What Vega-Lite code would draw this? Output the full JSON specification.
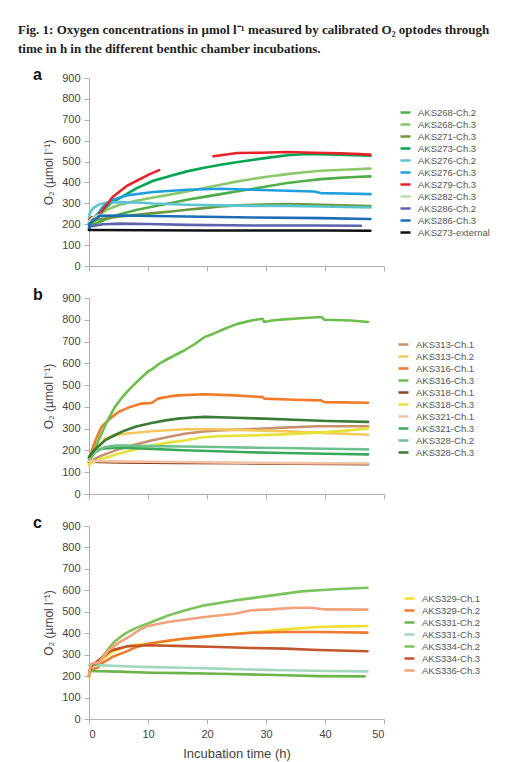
{
  "$schema": "https://vega.github.io/schema/vega-lite/v6.json",
  "background": "white",
  "padding": {"left": 18, "top": 24, "right": 5, "bottom": 2},
  "title": {
    "text": ["Fig. 1: Oxygen concentrations in µmol  l⁻¹ measured by calibrated O₂ optodes through", "time in h in the different benthic chamber incubations."],
    "anchor": "start",
    "font": "Liberation Serif",
    "fontSize": 13,
    "fontWeight": "bold",
    "color": "#222222",
    "lineHeight": 19,
    "offset": 11,
    "dx": -15
  },
  "datasets": {
    "pa": [
      {"s": "AKS268-Ch.2", "t": 0, "v": 195}, {"s": "AKS268-Ch.2", "t": 0.5, "v": 200}, {"s": "AKS268-Ch.2", "t": 1.3, "v": 205}, {"s": "AKS268-Ch.2", "t": 3, "v": 225}, {"s": "AKS268-Ch.2", "t": 5.2, "v": 248}, {"s": "AKS268-Ch.2", "t": 8, "v": 268}, {"s": "AKS268-Ch.2", "t": 10.9, "v": 285}, {"s": "AKS268-Ch.2", "t": 13.9, "v": 302}, {"s": "AKS268-Ch.2", "t": 16.6, "v": 317}, {"s": "AKS268-Ch.2", "t": 19.5, "v": 331}, {"s": "AKS268-Ch.2", "t": 22.3, "v": 344}, {"s": "AKS268-Ch.2", "t": 25, "v": 357}, {"s": "AKS268-Ch.2", "t": 27.9, "v": 370}, {"s": "AKS268-Ch.2", "t": 30.8, "v": 384}, {"s": "AKS268-Ch.2", "t": 33.6, "v": 397}, {"s": "AKS268-Ch.2", "t": 36.5, "v": 407}, {"s": "AKS268-Ch.2", "t": 39.3, "v": 416}, {"s": "AKS268-Ch.2", "t": 42.5, "v": 422}, {"s": "AKS268-Ch.2", "t": 45, "v": 426}, {"s": "AKS268-Ch.2", "t": 47.7, "v": 429},
      {"s": "AKS268-Ch.3", "t": 0, "v": 200}, {"s": "AKS268-Ch.3", "t": 0.7, "v": 215}, {"s": "AKS268-Ch.3", "t": 1.5, "v": 240}, {"s": "AKS268-Ch.3", "t": 3, "v": 269}, {"s": "AKS268-Ch.3", "t": 5.2, "v": 293}, {"s": "AKS268-Ch.3", "t": 8, "v": 312}, {"s": "AKS268-Ch.3", "t": 10.9, "v": 328}, {"s": "AKS268-Ch.3", "t": 13.9, "v": 343}, {"s": "AKS268-Ch.3", "t": 16.6, "v": 357}, {"s": "AKS268-Ch.3", "t": 19.5, "v": 373}, {"s": "AKS268-Ch.3", "t": 22.3, "v": 389}, {"s": "AKS268-Ch.3", "t": 25, "v": 404}, {"s": "AKS268-Ch.3", "t": 27.9, "v": 418}, {"s": "AKS268-Ch.3", "t": 30.8, "v": 430}, {"s": "AKS268-Ch.3", "t": 33.6, "v": 440}, {"s": "AKS268-Ch.3", "t": 36.5, "v": 449}, {"s": "AKS268-Ch.3", "t": 39.3, "v": 456}, {"s": "AKS268-Ch.3", "t": 43, "v": 461}, {"s": "AKS268-Ch.3", "t": 47.7, "v": 466},
      {"s": "AKS271-Ch.3", "t": 0, "v": 200}, {"s": "AKS271-Ch.3", "t": 1.3, "v": 221}, {"s": "AKS271-Ch.3", "t": 3, "v": 228}, {"s": "AKS271-Ch.3", "t": 5.2, "v": 237}, {"s": "AKS271-Ch.3", "t": 8, "v": 245}, {"s": "AKS271-Ch.3", "t": 10.9, "v": 253}, {"s": "AKS271-Ch.3", "t": 13.9, "v": 261}, {"s": "AKS271-Ch.3", "t": 16.6, "v": 269}, {"s": "AKS271-Ch.3", "t": 19.5, "v": 277}, {"s": "AKS271-Ch.3", "t": 22.3, "v": 285}, {"s": "AKS271-Ch.3", "t": 25, "v": 290}, {"s": "AKS271-Ch.3", "t": 27.9, "v": 293}, {"s": "AKS271-Ch.3", "t": 30.8, "v": 295}, {"s": "AKS271-Ch.3", "t": 33.6, "v": 296}, {"s": "AKS271-Ch.3", "t": 36.5, "v": 295}, {"s": "AKS271-Ch.3", "t": 39.3, "v": 293}, {"s": "AKS271-Ch.3", "t": 43, "v": 290}, {"s": "AKS271-Ch.3", "t": 47.7, "v": 287},
      {"s": "AKS273-Ch.3", "t": 0, "v": 205}, {"s": "AKS273-Ch.3", "t": 0.5, "v": 215}, {"s": "AKS273-Ch.3", "t": 1.5, "v": 235}, {"s": "AKS273-Ch.3", "t": 2.4, "v": 269}, {"s": "AKS273-Ch.3", "t": 3.5, "v": 297}, {"s": "AKS273-Ch.3", "t": 5.2, "v": 325}, {"s": "AKS273-Ch.3", "t": 8.1, "v": 373}, {"s": "AKS273-Ch.3", "t": 10.9, "v": 408}, {"s": "AKS273-Ch.3", "t": 13.9, "v": 432}, {"s": "AKS273-Ch.3", "t": 16.6, "v": 453}, {"s": "AKS273-Ch.3", "t": 19.5, "v": 470}, {"s": "AKS273-Ch.3", "t": 22.3, "v": 485}, {"s": "AKS273-Ch.3", "t": 25, "v": 497}, {"s": "AKS273-Ch.3", "t": 27.9, "v": 509}, {"s": "AKS273-Ch.3", "t": 30.8, "v": 520}, {"s": "AKS273-Ch.3", "t": 33.6, "v": 530}, {"s": "AKS273-Ch.3", "t": 37, "v": 536}, {"s": "AKS273-Ch.3", "t": 42, "v": 533}, {"s": "AKS273-Ch.3", "t": 47.7, "v": 528},
      {"s": "AKS276-Ch.2", "t": 0, "v": 180}, {"s": "AKS276-Ch.2", "t": 0.1, "v": 253}, {"s": "AKS276-Ch.2", "t": 0.7, "v": 277}, {"s": "AKS276-Ch.2", "t": 1.6, "v": 293}, {"s": "AKS276-Ch.2", "t": 3, "v": 304}, {"s": "AKS276-Ch.2", "t": 5.2, "v": 306}, {"s": "AKS276-Ch.2", "t": 8.1, "v": 304}, {"s": "AKS276-Ch.2", "t": 10.9, "v": 299}, {"s": "AKS276-Ch.2", "t": 16.6, "v": 293}, {"s": "AKS276-Ch.2", "t": 22.3, "v": 290}, {"s": "AKS276-Ch.2", "t": 27.9, "v": 288}, {"s": "AKS276-Ch.2", "t": 33.6, "v": 288}, {"s": "AKS276-Ch.2", "t": 39.3, "v": 285}, {"s": "AKS276-Ch.2", "t": 47.7, "v": 280},
      {"s": "AKS276-Ch.3", "t": 0, "v": 200}, {"s": "AKS276-Ch.3", "t": 0.7, "v": 229}, {"s": "AKS276-Ch.3", "t": 1.5, "v": 250}, {"s": "AKS276-Ch.3", "t": 2.4, "v": 285}, {"s": "AKS276-Ch.3", "t": 4.1, "v": 317}, {"s": "AKS276-Ch.3", "t": 6.4, "v": 338}, {"s": "AKS276-Ch.3", "t": 10.9, "v": 354}, {"s": "AKS276-Ch.3", "t": 16.6, "v": 365}, {"s": "AKS276-Ch.3", "t": 22.3, "v": 370}, {"s": "AKS276-Ch.3", "t": 27.9, "v": 365}, {"s": "AKS276-Ch.3", "t": 33.6, "v": 360}, {"s": "AKS276-Ch.3", "t": 38.1, "v": 357}, {"s": "AKS276-Ch.3", "t": 39.3, "v": 349}, {"s": "AKS276-Ch.3", "t": 43, "v": 347}, {"s": "AKS276-Ch.3", "t": 47.7, "v": 344},
      {"s": "AKS279-Ch.3", "g": 1, "t": 0, "v": 220}, {"s": "AKS279-Ch.3", "g": 1, "t": 0.4, "v": 232}, {"s": "AKS279-Ch.3", "g": 1, "t": 1.3, "v": 235}, {"s": "AKS279-Ch.3", "g": 1, "t": 1.8, "v": 250}, {"s": "AKS279-Ch.3", "g": 1, "t": 3, "v": 293}, {"s": "AKS279-Ch.3", "g": 1, "t": 4, "v": 330}, {"s": "AKS279-Ch.3", "g": 1, "t": 5.2, "v": 357}, {"s": "AKS279-Ch.3", "g": 1, "t": 6.5, "v": 385}, {"s": "AKS279-Ch.3", "g": 1, "t": 8.1, "v": 408}, {"s": "AKS279-Ch.3", "g": 1, "t": 10.3, "v": 440}, {"s": "AKS279-Ch.3", "g": 1, "t": 11.9, "v": 459},
      {"s": "AKS279-Ch.3", "g": 2, "t": 21.1, "v": 525}, {"s": "AKS279-Ch.3", "g": 2, "t": 23, "v": 533}, {"s": "AKS279-Ch.3", "g": 2, "t": 25.1, "v": 541}, {"s": "AKS279-Ch.3", "g": 2, "t": 29.1, "v": 542}, {"s": "AKS279-Ch.3", "g": 2, "t": 33.6, "v": 546}, {"s": "AKS279-Ch.3", "g": 2, "t": 38.1, "v": 542}, {"s": "AKS279-Ch.3", "g": 2, "t": 42.7, "v": 539}, {"s": "AKS279-Ch.3", "g": 2, "t": 47.7, "v": 533},
      {"s": "AKS282-Ch.3", "t": 0, "v": 215}, {"s": "AKS282-Ch.3", "t": 0.5, "v": 228}, {"s": "AKS282-Ch.3", "t": 1.2, "v": 238}, {"s": "AKS282-Ch.3", "t": 2, "v": 245},
      {"s": "AKS286-Ch.2", "t": 0, "v": 175}, {"s": "AKS286-Ch.2", "t": 0.1, "v": 189}, {"s": "AKS286-Ch.2", "t": 2.4, "v": 200}, {"s": "AKS286-Ch.2", "t": 5.2, "v": 203}, {"s": "AKS286-Ch.2", "t": 10, "v": 201}, {"s": "AKS286-Ch.2", "t": 16.6, "v": 197}, {"s": "AKS286-Ch.2", "t": 27.9, "v": 194}, {"s": "AKS286-Ch.2", "t": 38, "v": 194}, {"s": "AKS286-Ch.2", "t": 46.1, "v": 193},
      {"s": "AKS286-Ch.3", "t": 0, "v": 175}, {"s": "AKS286-Ch.3", "t": 0.1, "v": 200}, {"s": "AKS286-Ch.3", "t": 0.7, "v": 221}, {"s": "AKS286-Ch.3", "t": 1.3, "v": 229}, {"s": "AKS286-Ch.3", "t": 1.8, "v": 240}, {"s": "AKS286-Ch.3", "t": 5.2, "v": 242}, {"s": "AKS286-Ch.3", "t": 16.6, "v": 237}, {"s": "AKS286-Ch.3", "t": 27.9, "v": 232}, {"s": "AKS286-Ch.3", "t": 39.3, "v": 229}, {"s": "AKS286-Ch.3", "t": 47.7, "v": 225},
      {"s": "AKS273-external", "t": 0, "v": 172}, {"s": "AKS273-external", "t": 10, "v": 171}, {"s": "AKS273-external", "t": 20, "v": 170}, {"s": "AKS273-external", "t": 30, "v": 170}, {"s": "AKS273-external", "t": 40, "v": 170}, {"s": "AKS273-external", "t": 47.7, "v": 169}
    ],
    "pb": [
      {"s": "AKS313-Ch.1", "t": 0, "v": 147}, {"s": "AKS313-Ch.1", "t": 2, "v": 175}, {"s": "AKS313-Ch.1", "t": 5, "v": 205}, {"s": "AKS313-Ch.1", "t": 8, "v": 228}, {"s": "AKS313-Ch.1", "t": 10.6, "v": 246}, {"s": "AKS313-Ch.1", "t": 13.4, "v": 262}, {"s": "AKS313-Ch.1", "t": 16.2, "v": 277}, {"s": "AKS313-Ch.1", "t": 19, "v": 286}, {"s": "AKS313-Ch.1", "t": 21.8, "v": 292}, {"s": "AKS313-Ch.1", "t": 27.5, "v": 298}, {"s": "AKS313-Ch.1", "t": 33.1, "v": 305}, {"s": "AKS313-Ch.1", "t": 38.7, "v": 311}, {"s": "AKS313-Ch.1", "t": 47.3, "v": 311},
      {"s": "AKS313-Ch.2", "t": 0, "v": 132}, {"s": "AKS313-Ch.2", "t": 1, "v": 195}, {"s": "AKS313-Ch.2", "t": 2.7, "v": 254}, {"s": "AKS313-Ch.2", "t": 4, "v": 268}, {"s": "AKS313-Ch.2", "t": 6.1, "v": 277}, {"s": "AKS313-Ch.2", "t": 10.6, "v": 288}, {"s": "AKS313-Ch.2", "t": 16.2, "v": 297}, {"s": "AKS313-Ch.2", "t": 21.8, "v": 297}, {"s": "AKS313-Ch.2", "t": 27.5, "v": 292}, {"s": "AKS313-Ch.2", "t": 33.1, "v": 288}, {"s": "AKS313-Ch.2", "t": 38.7, "v": 282}, {"s": "AKS313-Ch.2", "t": 47.3, "v": 272},
      {"s": "AKS316-Ch.1", "t": 0, "v": 162}, {"s": "AKS316-Ch.1", "t": 1, "v": 240}, {"s": "AKS316-Ch.1", "t": 2.1, "v": 308}, {"s": "AKS316-Ch.1", "t": 3.5, "v": 345}, {"s": "AKS316-Ch.1", "t": 5, "v": 377}, {"s": "AKS316-Ch.1", "t": 7, "v": 400}, {"s": "AKS316-Ch.1", "t": 8.9, "v": 415}, {"s": "AKS316-Ch.1", "t": 10.6, "v": 418}, {"s": "AKS316-Ch.1", "t": 11.7, "v": 438}, {"s": "AKS316-Ch.1", "t": 13.4, "v": 447}, {"s": "AKS316-Ch.1", "t": 15.1, "v": 453}, {"s": "AKS316-Ch.1", "t": 19.6, "v": 458}, {"s": "AKS316-Ch.1", "t": 24.7, "v": 453}, {"s": "AKS316-Ch.1", "t": 29.4, "v": 445}, {"s": "AKS316-Ch.1", "t": 29.7, "v": 438}, {"s": "AKS316-Ch.1", "t": 34.8, "v": 433}, {"s": "AKS316-Ch.1", "t": 39.3, "v": 430}, {"s": "AKS316-Ch.1", "t": 39.9, "v": 422}, {"s": "AKS316-Ch.1", "t": 47.3, "v": 419},
      {"s": "AKS316-Ch.3", "t": 0, "v": 147}, {"s": "AKS316-Ch.3", "t": 1.6, "v": 246}, {"s": "AKS316-Ch.3", "t": 3, "v": 330}, {"s": "AKS316-Ch.3", "t": 4.4, "v": 400}, {"s": "AKS316-Ch.3", "t": 5.8, "v": 450}, {"s": "AKS316-Ch.3", "t": 7.2, "v": 491}, {"s": "AKS316-Ch.3", "t": 8.9, "v": 535}, {"s": "AKS316-Ch.3", "t": 10.1, "v": 565}, {"s": "AKS316-Ch.3", "t": 10.6, "v": 571}, {"s": "AKS316-Ch.3", "t": 12, "v": 600}, {"s": "AKS316-Ch.3", "t": 13.4, "v": 621}, {"s": "AKS316-Ch.3", "t": 16.2, "v": 660}, {"s": "AKS316-Ch.3", "t": 18, "v": 690}, {"s": "AKS316-Ch.3", "t": 19.6, "v": 721}, {"s": "AKS316-Ch.3", "t": 21, "v": 735}, {"s": "AKS316-Ch.3", "t": 23, "v": 759}, {"s": "AKS316-Ch.3", "t": 25, "v": 780}, {"s": "AKS316-Ch.3", "t": 27.5, "v": 797}, {"s": "AKS316-Ch.3", "t": 29.4, "v": 805}, {"s": "AKS316-Ch.3", "t": 29.7, "v": 790}, {"s": "AKS316-Ch.3", "t": 31, "v": 797}, {"s": "AKS316-Ch.3", "t": 33.1, "v": 802}, {"s": "AKS316-Ch.3", "t": 36.5, "v": 808}, {"s": "AKS316-Ch.3", "t": 39.4, "v": 813}, {"s": "AKS316-Ch.3", "t": 39.9, "v": 800}, {"s": "AKS316-Ch.3", "t": 44.4, "v": 797}, {"s": "AKS316-Ch.3", "t": 47.3, "v": 790},
      {"s": "AKS318-Ch.1", "t": 0, "v": 148}, {"s": "AKS318-Ch.1", "t": 5, "v": 145}, {"s": "AKS318-Ch.1", "t": 15, "v": 143}, {"s": "AKS318-Ch.1", "t": 25, "v": 141}, {"s": "AKS318-Ch.1", "t": 35, "v": 139}, {"s": "AKS318-Ch.1", "t": 47.3, "v": 137},
      {"s": "AKS318-Ch.3", "t": 0, "v": 139}, {"s": "AKS318-Ch.3", "t": 2, "v": 160}, {"s": "AKS318-Ch.3", "t": 5, "v": 185}, {"s": "AKS318-Ch.3", "t": 8, "v": 205}, {"s": "AKS318-Ch.3", "t": 10.6, "v": 223}, {"s": "AKS318-Ch.3", "t": 13.4, "v": 236}, {"s": "AKS318-Ch.3", "t": 16.2, "v": 246}, {"s": "AKS318-Ch.3", "t": 19.6, "v": 262}, {"s": "AKS318-Ch.3", "t": 23, "v": 266}, {"s": "AKS318-Ch.3", "t": 27.5, "v": 269}, {"s": "AKS318-Ch.3", "t": 33.1, "v": 274}, {"s": "AKS318-Ch.3", "t": 38.7, "v": 282}, {"s": "AKS318-Ch.3", "t": 43, "v": 290}, {"s": "AKS318-Ch.3", "t": 47.3, "v": 300},
      {"s": "AKS321-Ch.1", "t": 0, "v": 152}, {"s": "AKS321-Ch.1", "t": 5, "v": 150}, {"s": "AKS321-Ch.1", "t": 15, "v": 147}, {"s": "AKS321-Ch.1", "t": 25, "v": 144}, {"s": "AKS321-Ch.1", "t": 35, "v": 142}, {"s": "AKS321-Ch.1", "t": 47.3, "v": 140},
      {"s": "AKS321-Ch.3", "t": 0, "v": 165}, {"s": "AKS321-Ch.3", "t": 1, "v": 195}, {"s": "AKS321-Ch.3", "t": 2.1, "v": 208}, {"s": "AKS321-Ch.3", "t": 4, "v": 212}, {"s": "AKS321-Ch.3", "t": 6.6, "v": 211}, {"s": "AKS321-Ch.3", "t": 10.6, "v": 207}, {"s": "AKS321-Ch.3", "t": 16, "v": 201}, {"s": "AKS321-Ch.3", "t": 21.8, "v": 196}, {"s": "AKS321-Ch.3", "t": 27, "v": 192}, {"s": "AKS321-Ch.3", "t": 33.1, "v": 188}, {"s": "AKS321-Ch.3", "t": 40, "v": 185}, {"s": "AKS321-Ch.3", "t": 47.3, "v": 182},
      {"s": "AKS328-Ch.2", "t": 0, "v": 160}, {"s": "AKS328-Ch.2", "t": 1, "v": 190}, {"s": "AKS328-Ch.2", "t": 2.7, "v": 216}, {"s": "AKS328-Ch.2", "t": 4.5, "v": 222}, {"s": "AKS328-Ch.2", "t": 6.6, "v": 223}, {"s": "AKS328-Ch.2", "t": 10.6, "v": 220}, {"s": "AKS328-Ch.2", "t": 16, "v": 218}, {"s": "AKS328-Ch.2", "t": 21.8, "v": 216}, {"s": "AKS328-Ch.2", "t": 27, "v": 213}, {"s": "AKS328-Ch.2", "t": 33.1, "v": 211}, {"s": "AKS328-Ch.2", "t": 40, "v": 208}, {"s": "AKS328-Ch.2", "t": 47.3, "v": 205},
      {"s": "AKS328-Ch.3", "t": 0, "v": 170}, {"s": "AKS328-Ch.3", "t": 1, "v": 205}, {"s": "AKS328-Ch.3", "t": 2.7, "v": 246}, {"s": "AKS328-Ch.3", "t": 4.5, "v": 272}, {"s": "AKS328-Ch.3", "t": 6.1, "v": 292}, {"s": "AKS328-Ch.3", "t": 8, "v": 310}, {"s": "AKS328-Ch.3", "t": 10.6, "v": 326}, {"s": "AKS328-Ch.3", "t": 13, "v": 338}, {"s": "AKS328-Ch.3", "t": 15.1, "v": 346}, {"s": "AKS328-Ch.3", "t": 17.5, "v": 351}, {"s": "AKS328-Ch.3", "t": 19.6, "v": 354}, {"s": "AKS328-Ch.3", "t": 24.7, "v": 350}, {"s": "AKS328-Ch.3", "t": 29.7, "v": 346}, {"s": "AKS328-Ch.3", "t": 34.8, "v": 341}, {"s": "AKS328-Ch.3", "t": 40.4, "v": 335}, {"s": "AKS328-Ch.3", "t": 47.3, "v": 331}
    ],
    "pc": [
      {"s": "AKS329-Ch.1", "t": 0, "v": 196}, {"s": "AKS329-Ch.1", "t": 0.3, "v": 240}, {"s": "AKS329-Ch.1", "t": 1, "v": 255}, {"s": "AKS329-Ch.1", "t": 1.5, "v": 258}, {"s": "AKS329-Ch.1", "t": 2.1, "v": 274}, {"s": "AKS329-Ch.1", "t": 4, "v": 315}, {"s": "AKS329-Ch.1", "t": 6.1, "v": 336}, {"s": "AKS329-Ch.1", "t": 8, "v": 346}, {"s": "AKS329-Ch.1", "t": 10, "v": 351}, {"s": "AKS329-Ch.1", "t": 13, "v": 362}, {"s": "AKS329-Ch.1", "t": 16.3, "v": 375}, {"s": "AKS329-Ch.1", "t": 21.9, "v": 390}, {"s": "AKS329-Ch.1", "t": 27.5, "v": 403}, {"s": "AKS329-Ch.1", "t": 33.2, "v": 418}, {"s": "AKS329-Ch.1", "t": 38.8, "v": 429}, {"s": "AKS329-Ch.1", "t": 43, "v": 432}, {"s": "AKS329-Ch.1", "t": 47.2, "v": 434},
      {"s": "AKS329-Ch.2", "t": 0, "v": 200}, {"s": "AKS329-Ch.2", "t": 0.3, "v": 230}, {"s": "AKS329-Ch.2", "t": 1, "v": 235}, {"s": "AKS329-Ch.2", "t": 1.5, "v": 240}, {"s": "AKS329-Ch.2", "t": 2.1, "v": 258}, {"s": "AKS329-Ch.2", "t": 4, "v": 290}, {"s": "AKS329-Ch.2", "t": 6.1, "v": 312}, {"s": "AKS329-Ch.2", "t": 8, "v": 335}, {"s": "AKS329-Ch.2", "t": 10, "v": 351}, {"s": "AKS329-Ch.2", "t": 13, "v": 364}, {"s": "AKS329-Ch.2", "t": 16.3, "v": 375}, {"s": "AKS329-Ch.2", "t": 21.9, "v": 390}, {"s": "AKS329-Ch.2", "t": 27.5, "v": 402}, {"s": "AKS329-Ch.2", "t": 33.2, "v": 406}, {"s": "AKS329-Ch.2", "t": 38.8, "v": 406}, {"s": "AKS329-Ch.2", "t": 47.2, "v": 403},
      {"s": "AKS331-Ch.2", "t": 0, "v": 224}, {"s": "AKS331-Ch.2", "t": 5, "v": 221}, {"s": "AKS331-Ch.2", "t": 10.6, "v": 216}, {"s": "AKS331-Ch.2", "t": 16, "v": 214}, {"s": "AKS331-Ch.2", "t": 21.9, "v": 211}, {"s": "AKS331-Ch.2", "t": 27, "v": 208}, {"s": "AKS331-Ch.2", "t": 33.2, "v": 204}, {"s": "AKS331-Ch.2", "t": 38.8, "v": 200}, {"s": "AKS331-Ch.2", "t": 46.7, "v": 199},
      {"s": "AKS331-Ch.3", "t": 0, "v": 250}, {"s": "AKS331-Ch.3", "t": 2.1, "v": 250}, {"s": "AKS331-Ch.3", "t": 6, "v": 246}, {"s": "AKS331-Ch.3", "t": 10.6, "v": 242}, {"s": "AKS331-Ch.3", "t": 16, "v": 239}, {"s": "AKS331-Ch.3", "t": 21.9, "v": 235}, {"s": "AKS331-Ch.3", "t": 27, "v": 231}, {"s": "AKS331-Ch.3", "t": 33.2, "v": 227}, {"s": "AKS331-Ch.3", "t": 40, "v": 224}, {"s": "AKS331-Ch.3", "t": 47.2, "v": 222},
      {"s": "AKS334-Ch.2", "t": 0, "v": 204}, {"s": "AKS334-Ch.2", "t": 0.3, "v": 250}, {"s": "AKS334-Ch.2", "t": 1.6, "v": 258}, {"s": "AKS334-Ch.2", "t": 2.3, "v": 290}, {"s": "AKS334-Ch.2", "t": 3.3, "v": 328}, {"s": "AKS334-Ch.2", "t": 4.5, "v": 365}, {"s": "AKS334-Ch.2", "t": 6.1, "v": 398}, {"s": "AKS334-Ch.2", "t": 8, "v": 425}, {"s": "AKS334-Ch.2", "t": 10, "v": 445}, {"s": "AKS334-Ch.2", "t": 13.4, "v": 483}, {"s": "AKS334-Ch.2", "t": 16.5, "v": 508}, {"s": "AKS334-Ch.2", "t": 19.6, "v": 530}, {"s": "AKS334-Ch.2", "t": 24.7, "v": 553}, {"s": "AKS334-Ch.2", "t": 30.4, "v": 574}, {"s": "AKS334-Ch.2", "t": 36, "v": 595}, {"s": "AKS334-Ch.2", "t": 41.6, "v": 605}, {"s": "AKS334-Ch.2", "t": 47.2, "v": 612},
      {"s": "AKS334-Ch.3", "t": 0, "v": 210}, {"s": "AKS334-Ch.3", "t": 0.3, "v": 245}, {"s": "AKS334-Ch.3", "t": 1.6, "v": 274}, {"s": "AKS334-Ch.3", "t": 3.8, "v": 320}, {"s": "AKS334-Ch.3", "t": 6.7, "v": 340}, {"s": "AKS334-Ch.3", "t": 10, "v": 344}, {"s": "AKS334-Ch.3", "t": 16.3, "v": 340}, {"s": "AKS334-Ch.3", "t": 21.9, "v": 336}, {"s": "AKS334-Ch.3", "t": 27.5, "v": 331}, {"s": "AKS334-Ch.3", "t": 33.2, "v": 328}, {"s": "AKS334-Ch.3", "t": 38.8, "v": 322}, {"s": "AKS334-Ch.3", "t": 47.2, "v": 316},
      {"s": "AKS336-Ch.3", "t": 0, "v": 205}, {"s": "AKS336-Ch.3", "t": 0.3, "v": 255}, {"s": "AKS336-Ch.3", "t": 1, "v": 262}, {"s": "AKS336-Ch.3", "t": 1.6, "v": 262}, {"s": "AKS336-Ch.3", "t": 2.3, "v": 285}, {"s": "AKS336-Ch.3", "t": 3.3, "v": 320}, {"s": "AKS336-Ch.3", "t": 5, "v": 355}, {"s": "AKS336-Ch.3", "t": 6.7, "v": 382}, {"s": "AKS336-Ch.3", "t": 8.5, "v": 415}, {"s": "AKS336-Ch.3", "t": 10, "v": 434}, {"s": "AKS336-Ch.3", "t": 13.4, "v": 452}, {"s": "AKS336-Ch.3", "t": 19.6, "v": 476}, {"s": "AKS336-Ch.3", "t": 24.7, "v": 491}, {"s": "AKS336-Ch.3", "t": 27.5, "v": 507}, {"s": "AKS336-Ch.3", "t": 30.9, "v": 511}, {"s": "AKS336-Ch.3", "t": 34.9, "v": 519}, {"s": "AKS336-Ch.3", "t": 37.7, "v": 519}, {"s": "AKS336-Ch.3", "t": 40, "v": 511}, {"s": "AKS336-Ch.3", "t": 47.2, "v": 510}
    ]
  },
  "spacing": 15,
  "resolve": {"scale": {"color": "independent"}},
  "vconcat": [
    {
      "data": {"name": "pa"},
      "width": 295,
      "height": 188,
      "title": {"text": "a", "anchor": "start", "frame": "group", "dx": -56, "offset": -11},
      "mark": {"type": "line", "strokeWidth": 2.6, "strokeCap": "round", "strokeJoin": "round"},
      "encoding": {
        "x": {"field": "t", "type": "quantitative", "scale": {"domain": [0, 50]}, "axis": {"labels": false, "title": null, "values": [0, 10, 20, 30, 40, 50]}},
        "y": {"field": "v", "type": "quantitative", "scale": {"domain": [0, 900]}, "axis": {"title": "O₂ (µmol l⁻¹)", "values": [0, 100, 200, 300, 400, 500, 600, 700, 800, 900]}},
        "color": {
          "field": "s", "type": "nominal",
          "scale": {
            "domain": ["AKS268-Ch.2", "AKS268-Ch.3", "AKS271-Ch.3", "AKS273-Ch.3", "AKS276-Ch.2", "AKS276-Ch.3", "AKS279-Ch.3", "AKS282-Ch.3", "AKS286-Ch.2", "AKS286-Ch.3", "AKS273-external"],
            "range": ["#4fae48", "#8cc76a", "#6b9a3c", "#00a651", "#5cc4cf", "#1fa0dc", "#e5232a", "#b9dcaa", "#5b63ae", "#1c6db5", "#111111"]
          },
          "legend": {"orient": "none", "legendX": 310, "legendY": 28}
        },
        "detail": {"field": "g"}
      }
    },
    {
      "data": {"name": "pb"},
      "width": 295,
      "height": 196,
      "title": {"text": "b", "anchor": "start", "frame": "group", "dx": -56, "offset": -11},
      "mark": {"type": "line", "strokeWidth": 2.6, "strokeCap": "round", "strokeJoin": "round"},
      "encoding": {
        "x": {"field": "t", "type": "quantitative", "scale": {"domain": [0, 50]}, "axis": {"labels": false, "title": null, "values": [0, 10, 20, 30, 40, 50]}},
        "y": {"field": "v", "type": "quantitative", "scale": {"domain": [0, 900]}, "axis": {"title": "O₂ (µmol l⁻¹)", "values": [0, 100, 200, 300, 400, 500, 600, 700, 800, 900]}},
        "color": {
          "field": "s", "type": "nominal",
          "scale": {
            "domain": ["AKS313-Ch.1", "AKS313-Ch.2", "AKS316-Ch.1", "AKS316-Ch.3", "AKS318-Ch.1", "AKS318-Ch.3", "AKS321-Ch.1", "AKS321-Ch.3", "AKS328-Ch.2", "AKS328-Ch.3"],
            "range": ["#c9906e", "#f6c85c", "#f07b2b", "#6dbf4b", "#8c4424", "#e6e23a", "#f3c3a6", "#3aa95b", "#6ec08e", "#3b7b36"]
          },
          "legend": {"orient": "none", "legendX": 308, "legendY": 40}
        }
      }
    },
    {
      "data": {"name": "pc"},
      "width": 295,
      "height": 193,
      "title": {"text": "c", "anchor": "start", "frame": "group", "dx": -56, "offset": -11},
      "mark": {"type": "line", "strokeWidth": 2.6, "strokeCap": "round", "strokeJoin": "round"},
      "encoding": {
        "x": {"field": "t", "type": "quantitative", "scale": {"domain": [0, 50]}, "axis": {"title": "Incubation time (h)", "values": [0, 10, 20, 30, 40, 50]}},
        "y": {"field": "v", "type": "quantitative", "scale": {"domain": [0, 900]}, "axis": {"title": "O₂ (µmol l⁻¹)", "values": [0, 100, 200, 300, 400, 500, 600, 700, 800, 900]}},
        "color": {
          "field": "s", "type": "nominal",
          "scale": {
            "domain": ["AKS329-Ch.1", "AKS329-Ch.2", "AKS331-Ch.2", "AKS331-Ch.3", "AKS334-Ch.2", "AKS334-Ch.3", "AKS336-Ch.3"],
            "range": ["#f2df2e", "#ee7b2f", "#6db44a", "#a5d6c0", "#7cc35b", "#c1552b", "#f1a27c"]
          },
          "legend": {"orient": "none", "legendX": 314, "legendY": 66}
        }
      }
    }
  ],
  "config": {
    "font": "Liberation Sans",
    "view": {"stroke": null},
    "title": {"fontSize": 16, "fontWeight": "bold", "font": "Liberation Sans", "color": "#111111", "baseline": "bottom"},
    "axis": {
      "grid": false,
      "domainColor": "#b0b0b0",
      "tickColor": "#b0b0b0",
      "tickSize": 5,
      "labelFont": "Liberation Sans",
      "labelFontSize": 11,
      "labelColor": "#444444",
      "labelPadding": 4,
      "titleFont": "Liberation Sans",
      "titleFontSize": 12,
      "titleFontWeight": "normal",
      "titleColor": "#444444"
    },
    "axisY": {"titlePadding": 6},
    "axisX": {"titlePadding": 8, "titleFontSize": 13},
    "legend": {
      "title": null,
      "padding": 0,
      "symbolType": "stroke",
      "symbolSize": 100,
      "symbolStrokeWidth": 2.5,
      "labelFont": "Liberation Sans",
      "labelFontSize": 9.5,
      "labelColor": "#555555",
      "rowPadding": -1,
      "labelOffset": 6
    }
  }
}
